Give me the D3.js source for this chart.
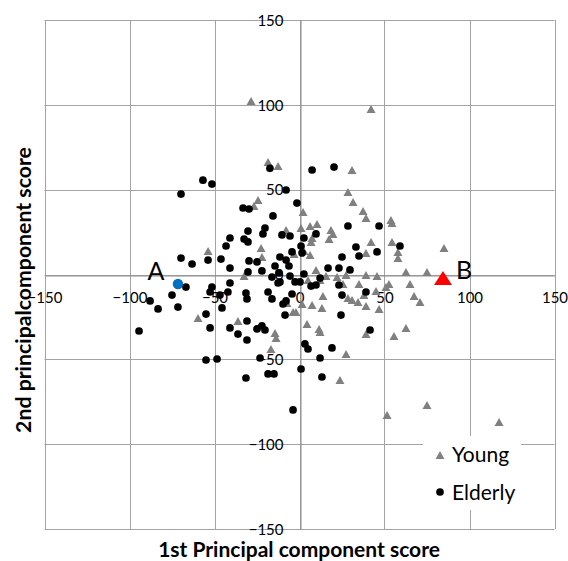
<!DOCTYPE html>
<html><head><meta charset="utf-8">
<script src="https://cdn.jsdelivr.net/npm/d3@7"></script>
<style>body{margin:0;background:#fff}svg{display:block}</style>
</head><body>
<svg id="c" width="568" height="561"></svg>
<script>
const tickValues = [-150,-100,-50,0,50,100,150];
const seriesNames = ["Young","Elderly"];
const youngX = [-28.5,42.1,-18.5,-12.6,30.9,-24.4,-26.8,28.5,31.5,37.4,39.1,53.8,54.4,2.1,0.9,6.2,10.3,18.5,19.7,17.4,7.4,6.8,-7.9,-22.6,-22.1,-53.8,-32.6,42.1,54.4,57.9,57.9,39.1,85.0,6.2,-3.2,2.6,9.7,39.1,45.6,62.6,75.0,65.0,52.6,35.0,25.6,22.1,15.6,27.4,12.1,5.0,1.5,7.4,13.8,13.2,-3.8,-2.1,4.4,11.5,12.1,28.5,34.4,37.9,39.1,46.8,45.0,50.9,30.9,67.4,70.9,39.1,55.6,62.6,27.4,23.8,51.5,75.0,117.4,-59.7,-36.2,-14.4,-13.8,-16.8,-7.4];
const youngY = [102.2,97.5,66.3,63.9,61.6,43.9,40.4,48.6,42.7,37.4,33.3,32.1,30.3,36.8,27.4,28.6,29.8,26.2,23.9,20.9,21.5,19.2,26.2,15.6,10.3,13.8,-0.9,19.2,19.2,13.3,9.7,12.7,15.6,11.5,12.1,13.8,2.7,-0.3,-0.9,1.5,1.5,-5.6,-5.6,-5.6,-5.6,-1.5,-0.9,-0.3,-3.2,-3.2,-17.4,-18.0,-12.7,-19.7,-22.1,-22.1,-29.2,-32.1,-33.9,-13.8,-16.2,-12.1,-18.6,-20.3,-9.7,-7.4,-15.0,-12.7,-16.2,-35.1,-36.2,-31.5,-46.8,-62.2,-82.8,-76.9,-86.9,-25.6,-27.4,-34.5,-37.4,-43.9,-16.8];
const elderlyX = [-69.7,-56.8,-51.5,-17.4,-7.9,-1.5,-33.2,-29.7,-15.6,-30.3,-20.3,-21.5,-40.9,-32.6,-30.3,-43.2,-10.3,-5.6,-69.7,-63.2,-53.8,-46.2,-29.7,-25.0,-40.9,-30.3,-22.1,-11.5,-7.9,-6.2,-14.4,-4.4,-16.2,-12.1,-11.5,-5.6,-2.6,-66.8,-51.5,-40.9,7.4,20.3,28.5,46.8,9.7,2.6,0.9,33.2,45.6,59.1,1.5,25.0,35.0,16.8,23.2,29.7,2.6,0.3,6.8,9.7,23.2,-7.9,-9.7,-4.4,25.0,39.1,-8.5,24.4,41.5,3.2,5.0,19.1,12.1,0.9,13.2,-3.8,-75.0,-87.9,-83.2,-71.5,-94.4,-52.6,-46.8,-42.1,-45.6,-55.0,-52.6,-31.5,-30.9,-18.5,-16.2,-12.6,-40.9,-36.2,-30.9,-30.9,-25.0,-22.1,-20.3,-55.0,-48.5,-23.2,-31.5,-18.5,-15.0,12.1];
const elderlyY = [47.4,55.6,53.3,62.6,49.8,42.1,39.2,38.6,34.5,25.6,27.4,23.9,21.5,20.9,19.2,16.8,23.3,22.7,9.7,6.2,8.5,9.1,8.0,7.4,3.8,1.5,2.1,10.3,8.5,5.0,5.0,13.3,-1.5,0.9,-4.4,-0.9,-4.4,-7.4,-7.4,-5.0,61.6,63.3,28.6,28.6,23.9,21.5,16.8,16.2,13.3,16.8,12.7,10.3,10.9,3.8,3.8,2.7,0.3,-4.4,-6.8,-6.2,-6.2,-15.6,-17.4,-11.5,-12.1,-10.3,-23.9,-23.9,-32.7,-40.9,-43.9,-43.3,-49.2,-55.7,-60.4,-79.8,-12.1,-15.6,-20.3,-19.2,-33.3,-10.3,-12.1,-10.3,-19.7,-23.3,-31.5,-10.9,-14.4,-10.3,-14.4,-5.0,-31.5,-35.1,-27.4,-38.6,-32.1,-30.3,-32.7,-50.4,-49.8,-49.2,-61.0,-58.6,-58.6,-2.1];
const pointA = {label:"A", x:-71.5, y:-5.6};
const pointB = {label:"B", x:84.4, y:-2.1};
const xTitle = "1st Principal component score";
const yTitle = "2nd principalcomponent score";

const svg = d3.select("#c");
const x = d3.scaleLinear().domain([-150,150]).range([44.5,554.5]);
const y = d3.scaleLinear().domain([-150,150]).range([529,20]);
const grid = "#a3a3a3";
const FONT = "Lato, 'Open Sans', sans-serif";

svg.append("rect").attr("width",568).attr("height",561).attr("fill","#fff");
const g = svg.append("g");
g.selectAll(".gx").data(tickValues).join("line")
  .attr("x1",d=>Math.round(x(d))+0.5).attr("x2",d=>Math.round(x(d))+0.5)
  .attr("y1",y(150)).attr("y2",y(-150)).attr("stroke",grid);
g.selectAll(".gy").data(tickValues).join("line")
  .attr("y1",d=>Math.round(y(d))+0.5).attr("y2",d=>Math.round(y(d))+0.5)
  .attr("x1",x(-150)).attr("x2",x(150)).attr("stroke",grid);

const xAxis = d3.axisBottom(x).tickValues(tickValues).tickSize(0).tickPadding(14).tickFormat(d3.format("d"));
const yAxis = d3.axisLeft(y).tickValues(tickValues).tickSize(0).tickPadding(17).tickFormat(d3.format("d"));
const ax = svg.append("g").attr("transform",`translate(0,${Math.round(y(0))+0.5})`).call(xAxis);
const ay = svg.append("g").attr("transform",`translate(${Math.round(x(0))+0.5},0)`).call(yAxis);
[ax,ay].forEach(a=>{
  a.select(".domain").attr("stroke","#8c8c8c");
  a.selectAll("text").attr("font-family",FONT).attr("font-size",15).attr("fill","#000");
});
ax.selectAll("text").attr("dy","0.35em").attr("y",22);
ay.selectAll("text").attr("dy","0.35em");

const lg = svg.append("g");
lg.append("rect").attr("x",423).attr("y",436).attr("width",98).attr("height",74).attr("fill","#fff");

const triPath = (w,h)=>`M0,${-h/2}L${w/2},${h/2}L${-w/2},${h/2}Z`;

svg.append("g").selectAll("path").data(youngX.map((v,i)=>[v,youngY[i]])).join("path")
  .attr("d",triPath(9,8)).attr("fill","#808080")
  .attr("transform",d=>`translate(${x(d[0])},${y(d[1])})`);
svg.append("g").selectAll("circle").data(elderlyX.map((v,i)=>[v,elderlyY[i]])).join("circle")
  .attr("cx",d=>x(d[0])).attr("cy",d=>y(d[1])).attr("r",3.85).attr("fill","#000");

svg.append("circle").attr("cx",x(pointA.x)).attr("cy",y(pointA.y)).attr("r",5.2).attr("fill","#0070C0");
svg.append("path").attr("d",triPath(18,14)).attr("fill","#FF0000")
  .attr("transform",`translate(${x(pointB.x)},${y(pointB.y)})`);
svg.append("text").text(pointA.label).attr("x",x(pointA.x)-22).attr("y",y(pointA.y)-4)
  .attr("text-anchor","middle").attr("font-family",FONT).attr("font-size",25).attr("fill","#000");
svg.append("text").text(pointB.label).attr("x",x(pointB.x)+13).attr("y",y(pointB.y)+1)
  .attr("text-anchor","start").attr("font-family",FONT).attr("font-size",25).attr("fill","#000");

lg.append("path").attr("d",triPath(9,8)).attr("fill","#808080").attr("transform","translate(440,455)");
lg.append("circle").attr("cx",440).attr("cy",492).attr("r",3.85).attr("fill","#000");
lg.append("text").text(seriesNames[0]).attr("x",452).attr("y",462).attr("font-family",FONT).attr("font-size",21);
lg.append("text").text(seriesNames[1]).attr("x",452).attr("y",500).attr("font-family",FONT).attr("font-size",21);
lg.raise();

function fit(t, w){ const L=t.node().getComputedTextLength(); const fs=+t.attr("font-size"); t.attr("font-size",fs*w/L); }
const xt = svg.append("text").text(xTitle).attr("x",299).attr("y",557).attr("text-anchor","middle")
  .attr("font-family",FONT).attr("font-weight","bold").attr("font-size",18);
fit(xt,282);
const yt = svg.append("text").text(yTitle).attr("transform","translate(31,290) rotate(-90)").attr("text-anchor","middle")
  .attr("font-family",FONT).attr("font-weight","bold").attr("font-size",18);
fit(yt,286);
</script>
</body></html>
